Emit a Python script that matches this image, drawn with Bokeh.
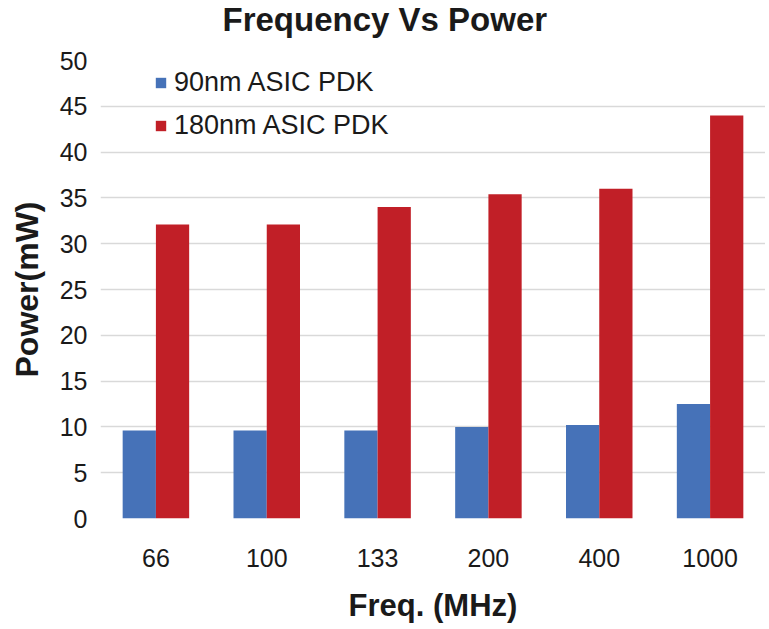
from bokeh.plotting import figure
from bokeh.models import ColumnDataSource, Legend, LegendItem, FixedTicker, Title
from bokeh.transform import dodge
from bokeh.embed import file_html
from bokeh.resources import INLINE

freqs = ["66", "100", "133", "200", "400", "1000"]
power_90nm = [9.6, 9.6, 9.6, 10.0, 10.2, 12.5]
power_180nm = [32.1, 32.1, 34.0, 35.4, 36.0, 44.0]
y_ticks = [0, 5, 10, 15, 20, 25, 30, 35, 40, 45, 50]

BLUE = "#4672B8"
RED = "#C11F27"
FONT = "Liberation Sans"
INK = "#1a1a1a"

src = ColumnDataSource(dict(f=freqs, a=power_90nm, b=power_180nm))

p = figure(x_range=freqs, y_range=(0, 50), width=765, height=625,
           output_backend="svg", toolbar_location=None,
           min_border_left=100, min_border_right=0, min_border_top=59, min_border_bottom=106,
           title="Frequency Vs Power")

r1 = p.vbar(x=dodge("f", -0.15, range=p.x_range), top="a", width=0.3, source=src,
            fill_color=BLUE, line_color=None)
r2 = p.vbar(x=dodge("f", 0.15, range=p.x_range), top="b", width=0.3, source=src,
            fill_color=RED, line_color=None)

# thin spacer between title and frame so the title sits at the very top
spacer = Title(text=" ", text_font_size="10px", standoff=8)
p.add_layout(spacer, "above")

p.title.text_font = FONT
p.title.text_font_size = "33px"
p.title.text_font_style = "bold"
p.title.text_color = INK
p.title.align = "left"
p.title.vertical_align = "top"
p.title.offset = 122
p.title.standoff = 0

p.outline_line_color = None
p.xgrid.grid_line_color = None
p.ygrid.grid_line_color = "#D9D9D9"
p.ygrid.grid_line_width = 1.5
p.yaxis.ticker = FixedTicker(ticks=y_ticks)

for ax in (p.xaxis[0], p.yaxis[0]):
    ax.axis_line_color = None
    ax.major_tick_line_color = None
    ax.minor_tick_line_color = None
    ax.major_label_text_font = FONT
    ax.major_label_text_font_size = "25px"
    ax.major_label_text_color = INK
    ax.axis_label_text_font = FONT
    ax.axis_label_text_font_style = "bold"
    ax.axis_label_text_color = INK

p.yaxis.axis_label = "Power(mW)"
p.yaxis.axis_label_text_font_size = "32px"
p.yaxis.major_label_standoff = 7
p.yaxis.axis_label_standoff = 12
p.xaxis.axis_label = "Freq. (MHz)"
p.xaxis.axis_label_text_font_size = "31px"
p.xaxis.major_label_standoff = 24
p.xaxis.axis_label_standoff = 18

legend = Legend(items=[LegendItem(label="90nm ASIC PDK", renderers=[r1]),
                       LegendItem(label="180nm ASIC PDK", renderers=[r2])],
                location=(54, 377), orientation="vertical")
legend.border_line_color = None
legend.background_fill_alpha = 0
legend.label_text_font = FONT
legend.label_text_font_size = "27px"
legend.label_text_color = INK
legend.glyph_width = 13
legend.glyph_height = 13
legend.spacing = 12
legend.padding = 0
legend.margin = 0
legend.label_standoff = 7
p.add_layout(legend, "center")

open("out.html", "w").write(file_html(p, INLINE))
